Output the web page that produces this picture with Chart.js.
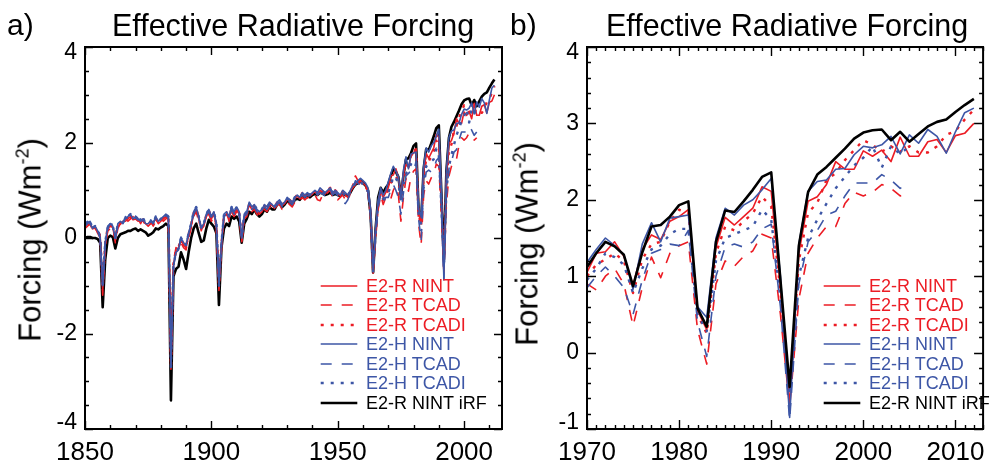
<!DOCTYPE html>
<html>
<head>
<meta charset="utf-8">
<script src="https://cdn.jsdelivr.net/npm/chart.js@4.4.1/dist/chart.umd.min.js"></script>
<style>
  html, body { margin:0; padding:0; background:#fff; }
  body { width:996px; height:464px; position:relative; overflow:hidden;
         font-family:"Liberation Sans", Arial, Helvetica, sans-serif; color:#000; }
  canvas { position:absolute; top:0; }
  #cA { left:0; }
  #cB { left:510px; }
  .txt { position:absolute; white-space:nowrap; line-height:1; }
  .ptitle { font-size:30.5px; transform:translateX(-50%); }
  .plabel { font-size:30px; }
  .ytitle { position:absolute; white-space:nowrap; font-size:31px; line-height:1;
            transform:translate(-50%,-50%) rotate(-90deg); }
  .ytitle sup { font-size:18px; vertical-align:12px; line-height:0; }
  .legend { position:absolute; font-size:18px; line-height:1; width:170px; height:140px; }
  .legend .row { position:absolute; left:0; width:170px; height:20px; white-space:nowrap; }
  .legend svg { position:absolute; left:0; top:0; }
  .legend span { position:absolute; left:46px; top:0; }
</style>
</head>
<body>
<canvas id="cA" width="510" height="464"></canvas>
<canvas id="cB" width="486" height="464"></canvas>

<div class="txt plabel" style="left:7px;top:10px;">a)</div>
<div class="txt ptitle" style="left:293px;top:10px;">Effective Radiative Forcing</div>
<div class="txt plabel" style="left:510px;top:10px;">b)</div>
<div class="txt ptitle" style="left:787px;top:10px;">Effective Radiative Forcing</div>
<div class="ytitle" style="left:30px;top:240px;">Forcing (Wm<sup>-2</sup>)</div>
<div class="ytitle" style="left:527px;top:244px;">Forcing (Wm<sup>-2</sup>)</div>
<div class="legend" id="legA" style="left:320px;top:277px;"></div>
<div class="legend" id="legB" style="left:823px;top:277px;"></div>

<script>
// ---------------- DATA ----------------
const years = [];
for (let yr = 1850; yr <= 2012; yr++) years.push(yr);

const seriesLabels = ['E2-R NINT', 'E2-R TCAD', 'E2-R TCADI', 'E2-H NINT', 'E2-H TCAD', 'E2-H TCADI', 'E2-R NINT iRF'];

const xTicksA = [1850, 1900, 1950, 2000];
const yTicksA = [-4, -2, 0, 2, 4];
const xTicksB = [1970, 1980, 1990, 2000, 2010];
const yTicksB = [-1, 0, 1, 2, 3, 4];

// E2-R NINT, 1850-2012
const e2rNint = [
  0.25, 0.3, 0.28, 0.22, 0.2, 0.12, 0.05, -1.1, -0.15, 0.2,
  0.25, 0.22, -0.05, 0.25, 0.3, 0.35, 0.35, 0.4, 0.45, 0.38,
  0.4, 0.35, 0.38, 0.35, 0.3, 0.25, 0.3, 0.32, 0.4, 0.3,
  0.35, 0.4, 0.45, 0.4, -2.75, -0.55, -0.3, -0.2, -0.05, -0.15,
  -0.2, 0.05, 0.25, 0.5, 0.6, 0.4, 0.2, 0.25, 0.45, 0.55,
  0.4, 0.5, 0.25, -1.05, -0.15, 0.45, 0.5, 0.4, 0.6, 0.5,
  0.6, 0.5, -0.05, 0.45, 0.5, 0.7, 0.6, 0.65, 0.55, 0.5,
  0.55, 0.65, 0.6, 0.7, 0.68, 0.62, 0.72, 0.75, 0.68, 0.72,
  0.8, 0.78, 0.72, 0.82, 0.88, 0.82, 0.92, 0.88, 0.9, 0.88,
  0.92, 0.98, 0.9, 1.0, 0.95, 0.92, 0.98, 1.02, 0.92, 0.98,
  0.92, 0.88, 0.95, 0.9, 0.85, 0.98, 1.05, 1.12, 1.18, 1.2,
  1.15, 1.1, 1.0, 0.55, -0.68, 0.15, 0.75, 1.0, 0.85, 0.95,
  1.05, 1.3, 1.32, 1.45, 1.26, 0.88, 1.35, 1.54, 1.48, 1.72,
  1.78, 1.87, 0.55, 0.3, 1.38, 1.77, 1.67, 1.78, 1.89, 2.17,
  2.11, 0.85, -0.7, 1.3, 1.98, 2.04, 2.2, 2.5, 2.4, 2.4,
  2.64, 2.57, 2.65, 2.5, 2.82, 2.57, 2.57, 2.76, 2.79, 2.62,
  2.84, 2.87, 3.0
];

// E2-R TCAD, 1850-2005
const e2rTcad = [
  0.2, 0.25, 0.3, 0.15, 0.25, 0.1, 0.0, -1.2, -0.2, 0.15,
  0.2, 0.25, -0.1, 0.2, 0.3, 0.25, 0.4, 0.35, 0.4, 0.45,
  0.35, 0.4, 0.3, 0.4, 0.25, 0.3, 0.35, 0.25, 0.35, 0.3,
  0.4, 0.35, 0.4, 0.45, -2.7, -0.5, -0.2, -0.25, -0.1, -0.2,
  -0.25, 0.0, 0.2, 0.45, 0.55, 0.35, 0.15, 0.3, 0.4, 0.5,
  0.35, 0.45, 0.2, -1.1, -0.2, 0.4, 0.55, 0.35, 0.55, 0.45,
  0.55, 0.45, -0.1, 0.4, 0.45, 0.65, 0.55, 0.6, 0.5, 0.45,
  0.5, 0.6, 0.55, 0.65, 0.6, 0.55, 0.7, 0.7, 0.6, 0.65,
  0.75, 0.7, 0.65, 0.75, 0.8, 0.75, 0.85, 0.8, 0.85, 0.8,
  0.85, 0.9, 0.8, 0.78, 0.9, 0.85, 0.95, 1.0, 0.85, 0.9,
  0.8, 0.85, 0.9, 0.8, 0.75, 0.95, 1.15, 1.3, 1.2, 1.1,
  1.1, 1.05, 0.95, 0.45, -0.75, 0.0, 0.6, 0.9, 0.7, 0.85,
  0.9, 0.82, 1.0, 1.1, 0.9, 0.35, 0.85, 1.25, 0.98, 1.3,
  1.4, 1.45, 0.3, -0.15, 0.9, 1.2, 1.13, 1.26, 1.33, 1.55,
  1.5, 0.5, -0.72, 0.7, 1.3, 1.5, 1.65, 1.65, 1.95, 2.1,
  2.05, 2.1, 2.2, 2.15, 2.05, 2.1
];

// E2-R TCADI, 1850-2012
const e2rTcadi = [
  0.28, 0.32, 0.25, 0.2, 0.22, 0.15, 0.05, -1.05, -0.1, 0.22,
  0.28, 0.2, 0.0, 0.28, 0.32, 0.3, 0.38, 0.42, 0.42, 0.4,
  0.42, 0.38, 0.35, 0.38, 0.28, 0.28, 0.32, 0.3, 0.42, 0.32,
  0.38, 0.42, 0.48, 0.42, -2.7, -0.55, -0.25, -0.2, -0.02, -0.12,
  -0.18, 0.08, 0.28, 0.52, 0.62, 0.42, 0.18, 0.28, 0.48, 0.58,
  0.42, 0.52, 0.28, -1.0, -0.12, 0.48, 0.52, 0.42, 0.62, 0.52,
  0.62, 0.52, -0.02, 0.45, 0.52, 0.72, 0.62, 0.68, 0.58, 0.52,
  0.58, 0.68, 0.62, 0.72, 0.7, 0.64, 0.74, 0.78, 0.7, 0.74,
  0.82, 0.8, 0.74, 0.84, 0.9, 0.84, 0.94, 0.9, 0.92, 0.9,
  0.95, 1.0, 0.92, 1.02, 0.98, 0.94, 1.0, 1.05, 0.95, 1.0,
  0.95, 0.9, 0.98, 0.92, 0.88, 1.0, 1.1, 1.2, 1.22, 1.18,
  1.12, 1.08, 0.98, 0.5, -0.7, 0.1, 0.7, 0.95, 0.8, 0.9,
  1.0, 1.15, 1.22, 1.3, 1.2, 0.78, 1.22, 1.42, 1.45, 1.72,
  1.87, 1.83, 0.5, 0.25, 1.3, 1.65, 1.6, 1.72, 1.82, 2.04,
  1.91, 0.8, -0.5, 1.2, 1.83, 1.96, 2.26, 2.35, 2.52, 2.65,
  2.78, 2.72, 2.63, 2.7, 2.63, 2.7, 2.62, 2.62, 2.7, 2.85,
  2.9, 3.05, 3.18
];

// E2-H NINT, 1850-2012
const e2hNint = [
  0.3, 0.35, 0.3, 0.2, 0.25, 0.15, 0.0, -1.0, -0.1, 0.25,
  0.3, 0.25, 0.0, 0.3, 0.35, 0.3, 0.4, 0.45, 0.5, 0.4,
  0.45, 0.4, 0.35, 0.4, 0.3, 0.3, 0.35, 0.3, 0.45, 0.35,
  0.4, 0.45, 0.5, 0.45, -2.7, -0.6, -0.3, -0.25, 0.0, -0.1,
  -0.15, 0.1, 0.3, 0.55, 0.65, 0.45, 0.2, 0.3, 0.5, 0.6,
  0.45, 0.55, 0.3, -1.0, -0.1, 0.5, 0.55, 0.45, 0.65, 0.55,
  0.65, 0.55, 0.0, 0.5, 0.55, 0.75, 0.65, 0.7, 0.6, 0.55,
  0.6, 0.7, 0.65, 0.75, 0.7, 0.65, 0.75, 0.8, 0.7, 0.75,
  0.85, 0.8, 0.75, 0.85, 0.9, 0.85, 0.95, 0.9, 0.95, 0.9,
  0.95, 1.0, 0.95, 1.05, 1.0, 0.95, 1.0, 1.05, 0.95, 1.0,
  0.95, 0.9, 1.0, 0.95, 0.9, 1.0, 1.1, 1.15, 1.2, 1.25,
  1.2, 1.15, 1.05, 0.6, -0.65, 0.2, 0.8, 1.05, 0.9, 1.0,
  1.18, 1.35, 1.5, 1.4, 1.28, 0.83, 1.42, 1.7, 1.45, 1.76,
  1.78, 1.8, 0.6, 0.46, 1.5, 1.89, 1.8, 1.93, 2.0, 2.13,
  2.28, 1.0, -0.85, 1.42, 2.11, 2.24, 2.26, 2.4, 2.41, 2.59,
  2.7, 2.68, 2.72, 2.83, 2.6, 2.85, 2.74, 2.92, 2.83, 2.61,
  2.89, 3.14, 3.2
];

// E2-H TCAD, 1850-2005
const e2hTcad = [
  0.25, 0.3, 0.35, 0.25, 0.2, 0.2, 0.0, -0.95, -0.05, 0.2,
  0.3, 0.28, 0.02, 0.25, 0.35, 0.32, 0.45, 0.4, 0.48, 0.42,
  0.42, 0.38, 0.4, 0.35, 0.32, 0.28, 0.38, 0.32, 0.42, 0.38,
  0.38, 0.42, 0.48, 0.42, -2.65, -0.6, -0.3, -0.22, 0.02, -0.08,
  -0.12, 0.1, 0.28, 0.5, 0.6, 0.42, 0.22, 0.28, 0.48, 0.55,
  0.42, 0.52, 0.28, -0.95, -0.1, 0.45, 0.5, 0.42, 0.6, 0.5,
  0.6, 0.5, 0.0, 0.45, 0.5, 0.7, 0.6, 0.65, 0.55, 0.5,
  0.55, 0.65, 0.6, 0.7, 0.65, 0.6, 0.7, 0.75, 0.65, 0.7,
  0.8, 0.75, 0.7, 0.8, 0.85, 0.8, 0.9, 0.85, 0.9, 0.85,
  0.9, 0.95, 0.9, 0.95, 0.92, 0.88, 0.95, 1.0, 0.9, 0.95,
  0.88, 0.85, 0.75, 0.72, 0.8, 0.95, 1.05, 1.2, 1.15, 1.1,
  1.1, 1.05, 0.95, 0.45, -0.7, 0.05, 0.65, 0.9, 0.75, 0.85,
  0.85, 1.0, 1.12, 1.0, 0.85, 0.5, 0.95, 1.3, 1.35, 1.42,
  1.4, 1.6, 0.4, -0.05, 1.0, 1.38, 1.42, 1.38, 1.45, 1.62,
  1.68, 0.6, -0.88, 0.9, 1.45, 1.6, 1.8, 1.85, 2.05, 2.22,
  2.22, 2.22, 2.33, 2.26, 2.15, 2.22
];

// E2-H TCADI, 1850-2005
const e2hTcadi = [
  0.3, 0.32, 0.28, 0.22, 0.25, 0.18, 0.02, -1.0, -0.08, 0.22,
  0.28, 0.25, 0.0, 0.3, 0.32, 0.32, 0.42, 0.45, 0.5, 0.42,
  0.45, 0.4, 0.38, 0.42, 0.3, 0.3, 0.35, 0.3, 0.45, 0.35,
  0.4, 0.45, 0.5, 0.45, -2.7, -0.58, -0.28, -0.22, 0.0, -0.1,
  -0.15, 0.1, 0.3, 0.55, 0.65, 0.45, 0.2, 0.3, 0.5, 0.6,
  0.45, 0.55, 0.3, -1.0, -0.1, 0.5, 0.55, 0.45, 0.65, 0.55,
  0.65, 0.55, 0.0, 0.5, 0.55, 0.72, 0.65, 0.7, 0.6, 0.55,
  0.6, 0.7, 0.65, 0.72, 0.7, 0.65, 0.75, 0.78, 0.7, 0.75,
  0.82, 0.8, 0.75, 0.85, 0.88, 0.85, 0.92, 0.9, 0.95, 0.9,
  0.95, 0.98, 0.92, 1.0, 0.98, 0.92, 0.98, 1.02, 0.95, 1.0,
  0.92, 0.88, 0.95, 0.88, 0.85, 0.98, 1.08, 1.15, 1.2, 1.18,
  1.12, 1.08, 0.98, 0.5, -0.7, 0.1, 0.72, 0.98, 0.82, 0.92,
  0.95, 1.1, 1.3, 1.25, 1.15, 0.78, 1.1, 1.35, 1.4, 1.55,
  1.62, 1.62, 0.5, 0.28, 1.2, 1.5, 1.55, 1.6, 1.65, 1.87,
  1.74, 0.7, -0.55, 1.0, 1.5, 1.74, 1.95, 2.15, 2.3, 2.45,
  2.55, 2.7, 2.42, 2.7, 2.6, 2.7
];

// E2-R NINT iRF, 1850-2012
const e2rNintIrf = [
  0.0, 0.02, 0.02, 0.0, 0.0, -0.02, -0.1, -1.45, -0.45, 0.0,
  0.05, 0.02, -0.22, 0.0, 0.08, 0.1, 0.12, 0.15, 0.15, 0.18,
  0.2, 0.15, 0.18, 0.15, 0.12, 0.05, 0.08, 0.12, 0.2, 0.18,
  0.22, 0.25, 0.3, 0.25, -3.4, -0.8, -0.65, -0.6, -0.3, -0.45,
  -0.65, -0.3, 0.0, 0.2, 0.3, 0.1, -0.08, -0.05, 0.2, 0.38,
  0.3, 0.24, 0.1, -1.4, -0.2, 0.2, 0.3, 0.25, 0.45, 0.4,
  0.45, 0.35, -0.1, 0.3, 0.4, 0.55, 0.5, 0.6, 0.5, 0.45,
  0.5, 0.6, 0.55, 0.65, 0.6, 0.6, 0.7, 0.72, 0.65, 0.7,
  0.78, 0.75, 0.7, 0.8, 0.82, 0.8, 0.88, 0.85, 0.9, 0.85,
  0.9, 0.92, 0.9, 0.95, 0.93, 0.9, 0.92, 0.95, 0.9, 0.92,
  0.9, 0.88, 0.92, 0.9, 0.88, 0.95, 1.05, 1.12, 1.15, 1.2,
  1.15, 1.1, 1.0, 0.5, -0.72, 0.2, 0.85, 1.05, 0.95, 1.05,
  1.12, 1.3, 1.45, 1.39, 1.28, 0.87, 1.31, 1.65, 1.67, 1.78,
  1.93, 1.98, 0.58, 0.34, 1.45, 1.86, 1.84, 1.98, 2.13, 2.3,
  2.36, 0.95, -0.45, 1.4, 2.1, 2.33, 2.43, 2.55, 2.67, 2.8,
  2.88, 2.91, 2.92, 2.78, 2.89, 2.76, 2.86, 2.96, 3.02, 3.05,
  3.15, 3.24, 3.32
];

const seriesValues = [e2rNint, e2rTcad, e2rTcadi, e2hNint, e2hTcad, e2hTcadi, e2rNintIrf];

// ---------------- STYLE ----------------
const RED = '#ec1c24';
const BLUE = '#3d56a6';
const styles = [
  { color: RED,  dash: [],      width: 1.6 },
  { color: RED,  dash: [11, 10], width: 1.6 },
  { color: RED,  dash: [3, 7],  width: 2.4 },
  { color: BLUE, dash: [],      width: 1.6 },
  { color: BLUE, dash: [11, 10], width: 1.6 },
  { color: BLUE, dash: [3, 7],  width: 2.4 },
  { color: '#000', dash: [],    width: 2.6 }
];

function buildDatasets(fromYear, orders) {
  return seriesValues.map((vals, i) => {
    const pts = [];
    vals.forEach((v, k) => {
      if (years[k] >= fromYear && v !== null && v !== undefined) pts.push({ x: years[k], y: v });
    });
    return {
      label: seriesLabels[i],
      data: pts,
      borderColor: styles[i].color,
      backgroundColor: styles[i].color,
      borderWidth: styles[i].width,
      borderDash: styles[i].dash,
      borderCapStyle: 'butt',
      borderJoinStyle: 'round',
      pointRadius: 0,
      pointHoverRadius: 0,
      tension: 0,
      fill: false,
      order: orders[i]
    };
  });
}

const frameTicks = {
  id: 'frameTicks',
  afterDraw(chart, args, o) {
    const { ctx, chartArea: ca, scales: { x, y } } = chart;
    ctx.save();
    ctx.strokeStyle = '#000';
    ctx.lineWidth = 1.4;
    ctx.beginPath();
    const vt = (v, len) => {
      const p = Math.round(x.getPixelForValue(v)) + 0.5;
      ctx.moveTo(p, ca.bottom); ctx.lineTo(p, ca.bottom - len);
      ctx.moveTo(p, ca.top); ctx.lineTo(p, ca.top + len);
    };
    const ht = (v, len) => {
      const p = Math.round(y.getPixelForValue(v)) + 0.5;
      ctx.moveTo(ca.left, p); ctx.lineTo(ca.left + len, p);
      ctx.moveTo(ca.right, p); ctx.lineTo(ca.right - len, p);
    };
    for (let k = 0; ; k++) {
      const v = x.min + k * o.xMinorStep;
      if (v > x.max + 1e-9) break;
      const r = (v - o.xMajorBase) / o.xMajorStep;
      vt(v, Math.abs(r - Math.round(r)) < 1e-6 ? o.major : o.minor);
    }
    for (let k = 0; ; k++) {
      const v = y.min + k * o.yMinorStep;
      if (v > y.max + 1e-9) break;
      const r = (v - y.min) / o.yMajorStep;
      ht(v, Math.abs(r - Math.round(r)) < 1e-6 ? o.major : o.minor);
    }
    ctx.stroke();
    ctx.lineWidth = 2;
    ctx.strokeRect(ca.left, ca.top, ca.right - ca.left, ca.bottom - ca.top);
    ctx.restore();
  }
};

const edgeLabels = {
  id: 'edgeLabels',
  beforeDraw(chart) {
    try {
      const y = chart.scales.y;
      const items = y.getLabelItems(chart.chartArea);
      items.forEach((it, i) => {
        const v = y.ticks[i].value;
        if (v === y.min) it.options.translation[1] -= 6;
        if (v === y.max) it.options.translation[1] += 6;
      });
    } catch (e) {}
  }
};

function makeChart(id, cfg) {
  return new Chart(document.getElementById(id), {
    type: 'line',
    data: { datasets: buildDatasets(cfg.fromYear, cfg.orders) },
    plugins: [frameTicks, edgeLabels],
    options: {
      responsive: false,
      animation: false,
      devicePixelRatio: 1,
      layout: { padding: { left: 0, right: cfg.padRight, top: 47, bottom: 0 } },
      plugins: {
        legend: { display: false },
        tooltip: { enabled: false },
        title: { display: false },
        frameTicks: cfg.ticks
      },
      scales: {
        x: {
          type: 'linear', min: cfg.xmin, max: cfg.xmax,
          grid: { display: false, drawTicks: false },
          border: { display: false },
          ticks: { color: '#000', font: { size: 26, family: '"Liberation Sans", Arial, sans-serif', lineHeight: 1 },
                   padding: 11, maxRotation: 0, autoSkip: false, callback: v => String(v) },
          afterBuildTicks: s => { s.ticks = cfg.xTicks.map(v => ({ value: v })); },
          afterFit: s => { s.height = 35; }
        },
        y: {
          type: 'linear', min: cfg.ymin, max: cfg.ymax,
          grid: { display: false, drawTicks: false },
          border: { display: false },
          ticks: { color: '#000', font: { size: 23, family: '"Liberation Sans", Arial, sans-serif', lineHeight: 1 },
                   padding: 8, autoSkip: false, callback: v => String(v) },
          afterBuildTicks: s => { s.ticks = cfg.yTicks.map(v => ({ value: v })); },
          afterFit: s => { s.width = cfg.yWidth; }
        }
      }
    }
  });
}

const chartA = makeChart('cA', {
  fromYear: 1850, xmin: 1850, xmax: 2015, ymin: -4, ymax: 4,
  xTicks: xTicksA, yTicks: yTicksA, yWidth: 85, padRight: 8,
  orders: [4, 5, 6, 1, 2, 3, 7],
  ticks: { xMinorStep: 10, xMajorStep: 50, xMajorBase: 1850, yMinorStep: 0.5, yMajorStep: 2, major: 8, minor: 4 }
});

const chartB = makeChart('cB', {
  fromYear: 1970, xmin: 1970, xmax: 2013, ymin: -1, ymax: 4,
  xTicks: xTicksB, yTicks: yTicksB, yWidth: 77, padRight: 9,
  orders: [4, 5, 6, 1, 2, 3, 0],
  ticks: { xMinorStep: 1, xMajorStep: 10, xMajorBase: 1970, yMinorStep: 0.2, yMajorStep: 1, major: 9, minor: 4 }
});

// HTML legends built from the datasets
function buildLegend(elId, chart) {
  const el = document.getElementById(elId);
  chart.data.datasets.forEach((ds, i) => {
    const row = document.createElement('div');
    row.className = 'row';
    row.style.top = (i * 19.45) + 'px';
    const svgNS = 'http://www.w3.org/2000/svg';
    const svg = document.createElementNS(svgNS, 'svg');
    svg.setAttribute('width', '40'); svg.setAttribute('height', '20');
    const ln = document.createElementNS(svgNS, 'line');
    ln.setAttribute('x1', '0.7'); ln.setAttribute('x2', '37.3');
    ln.setAttribute('y1', '9'); ln.setAttribute('y2', '9');
    ln.setAttribute('stroke', ds.borderColor);
    ln.setAttribute('stroke-width', String(ds.borderWidth));
    if (ds.borderDash && ds.borderDash.length) ln.setAttribute('stroke-dasharray', ds.borderDash.join(' '));
    svg.appendChild(ln);
    const sp = document.createElement('span');
    sp.textContent = ds.label;
    sp.style.color = ds.borderColor;
    row.appendChild(svg); row.appendChild(sp);
    el.appendChild(row);
  });
}
buildLegend('legA', chartA);
buildLegend('legB', chartB);
</script>
</body>
</html>
